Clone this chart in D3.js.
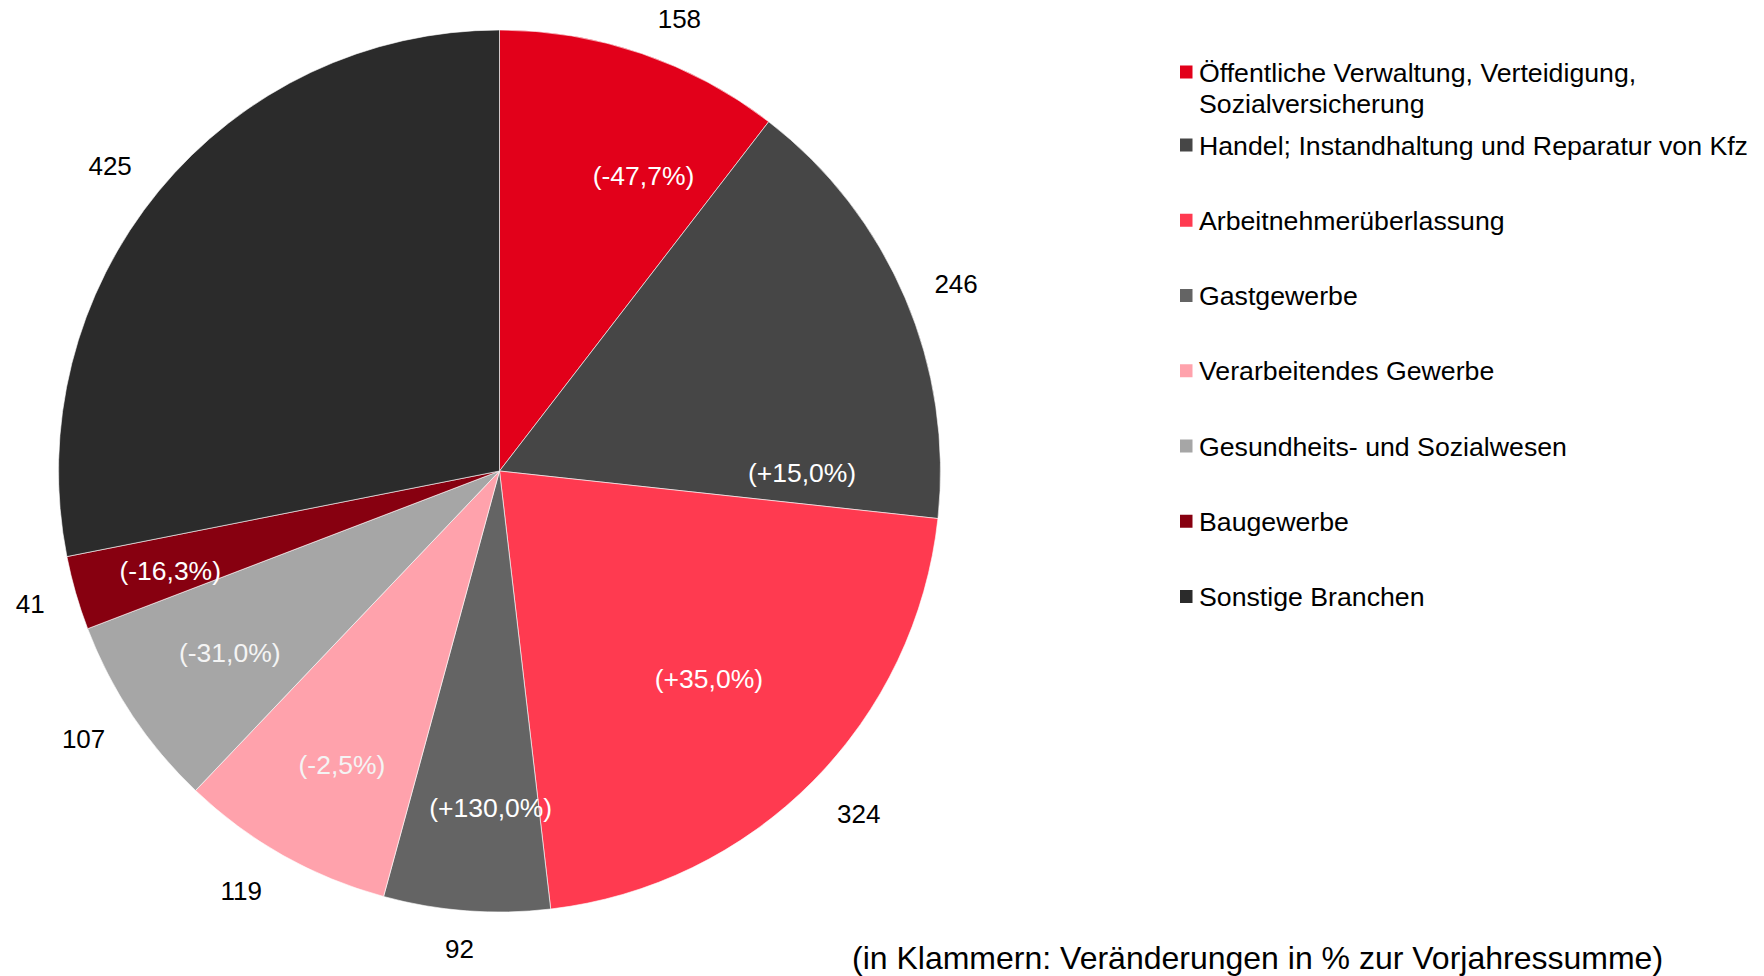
<!DOCTYPE html>
<html>
<head>
<meta charset="utf-8">
<script src="https://cdn.jsdelivr.net/npm/d3@7"></script>
<style>
  body { margin: 0; background: #fff; }
  svg { display: block; font-family: "Liberation Sans", Arial, sans-serif; }
</style>
</head>
<body>
<div id="chart"></div>
<script>
const categories = [
  'Öffentliche Verwaltung, Verteidigung, Sozialversicherung',
  'Handel; Instandhaltung und Reparatur von Kfz',
  'Arbeitnehmerüberlassung',
  'Gastgewerbe',
  'Verarbeitendes Gewerbe',
  'Gesundheits- und Sozialwesen',
  'Baugewerbe',
  'Sonstige Branchen'
];
const legendLines = [
  ['Öffentliche Verwaltung, Verteidigung,', 'Sozialversicherung'],
  ['Handel; Instandhaltung und Reparatur von Kfz'],
  ['Arbeitnehmerüberlassung'],
  ['Gastgewerbe'],
  ['Verarbeitendes Gewerbe'],
  ['Gesundheits- und Sozialwesen'],
  ['Baugewerbe'],
  ['Sonstige Branchen']
];
const values = [158, 246, 324, 92, 119, 107, 41, 425];
const changes = ['(-47,7%)', '(+15,0%)', '(+35,0%)', '(+130,0%)', '(-2,5%)', '(-31,0%)', '(-16,3%)', null];
const colors = ['#e2001a', '#464646', '#ff3a50', '#646464', '#ffa2ac', '#a6a6a6', '#870010', '#2b2b2b'];
const footnote = '(in Klammern: Veränderungen in % zur Vorjahressumme)';

const width = 1764, height = 976;
const cx = 499.5, cy = 471, radius = 441;

// label placement tweaks (angle in degrees, radius factor), as in the original layout
const innerPos = [
  { a: 26, r: 0.745 }, { a: 90.3, r: 0.686 }, { a: 134.7, r: 0.668 }, { a: 181.5, r: 0.763 },
  { a: 208.2, r: 0.756 }, { a: 236.1, r: 0.737 }, { a: 253.2, r: 0.78 }, null
];
const outerPos = [
  { a: 21.7, r: 1.103 }, { a: 67.7, r: 1.119 }, { a: 133.6, r: 1.125 }, { a: 184.8, r: 1.086 },
  { a: 211.6, r: 1.118 }, { a: 237.2, r: 1.122 }, { a: 254.2, r: 1.106 }, { a: 308.1, r: 1.122 }
];

const svg = d3.select('#chart').append('svg')
  .attr('width', width)
  .attr('height', height);

const g = svg.append('g')
  .attr('transform', 'translate(' + cx + ',' + cy + ')');

const pie = d3.pie().sort(null).value(d => d);
const arcs = pie(values);
const arc = d3.arc().innerRadius(0).outerRadius(radius);

g.selectAll('path.slice')
  .data(arcs)
  .enter()
  .append('path')
  .attr('class', 'slice')
  .attr('d', arc)
  .attr('fill', (d, i) => colors[i])
  .attr('stroke', '#fff')
  .attr('stroke-width', 0.6);

function polar(angleRad, r) {
  return [Math.sin(angleRad) * r, -Math.cos(angleRad) * r];
}

function labelPos(d, pos, defR) {
  const a = pos ? pos.a * Math.PI / 180 : (d.startAngle + d.endAngle) / 2;
  const r = (pos ? pos.r : defR) * radius;
  const p = polar(a, r);
  return 'translate(' + p[0] + ',' + p[1] + ')';
}

// outer value labels
g.selectAll('text.value')
  .data(arcs)
  .enter()
  .append('text')
  .attr('class', 'value')
  .attr('transform', d => labelPos(d, outerPos[d.index], 1.11))
  .attr('text-anchor', 'middle')
  .attr('dy', '0.36em')
  .attr('font-size', 26)
  .attr('fill', '#000')
  .text(d => d.value);

// inner change labels
g.selectAll('text.change')
  .data(arcs.filter((d, i) => changes[i]))
  .enter()
  .append('text')
  .attr('class', 'change')
  .attr('transform', d => labelPos(d, innerPos[d.index], 0.75))
  .attr('text-anchor', 'middle')
  .attr('dy', '0.36em')
  .attr('font-size', 26.5)
  .attr('fill', (d) => d.index === 4 || d.index === 5 ? '#f4f4f4' : '#fff')
  .text(d => changes[d.index]);

// legend
const legendY = d3.scalePoint()
  .domain(d3.range(1, categories.length))
  .range([145, 596.5]);

const legend = svg.append('g')
  .attr('class', 'legend')
  .attr('transform', 'translate(1180,0)');

const item = legend.selectAll('g.item')
  .data(categories)
  .enter()
  .append('g')
  .attr('class', 'item')
  .attr('transform', (d, i) => 'translate(0,' + (i === 0 ? 72 : legendY(i)) + ')');

item.append('rect')
  .attr('x', 0)
  .attr('y', -6.5)
  .attr('width', 12.5)
  .attr('height', 13)
  .attr('fill', (d, i) => colors[i]);

item.each(function(d, i) {
  const t = d3.select(this).append('text')
    .attr('x', 19)
    .attr('y', 9.6)
    .attr('font-size', 26.7)
    .attr('fill', '#000');
  legendLines[i].forEach((line, j) => {
    t.append('tspan')
      .attr('x', 19)
      .attr('dy', j === 0 ? 0 : 31.5)
      .text(line);
  });
});

svg.append('text')
  .attr('x', 852)
  .attr('y', 969)
  .attr('font-size', 32)
  .attr('fill', '#000')
  .text(footnote);
</script>
</body>
</html>
